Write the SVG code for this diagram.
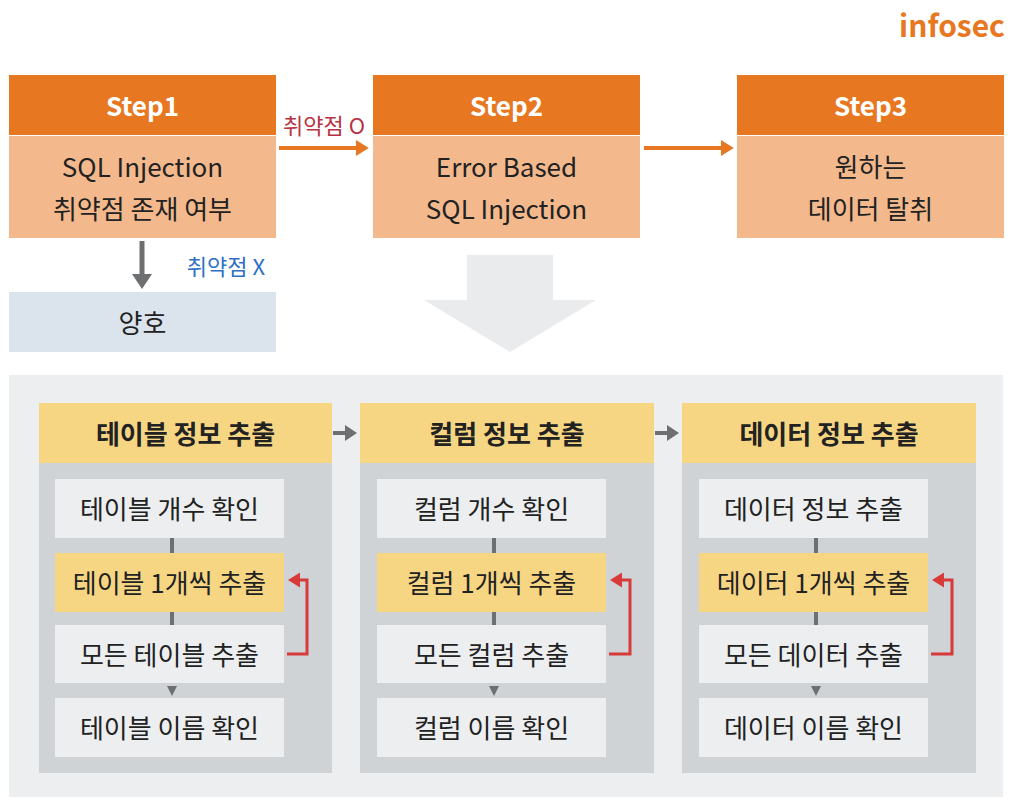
<svg xmlns="http://www.w3.org/2000/svg" width="1011" height="800" viewBox="0 0 1011 800">
<defs>
<style>
text{font-family:"Noto Sans CJK KR","Noto Sans",sans-serif;text-anchor:middle;dominant-baseline:central}
.hd{fill:#e87722}
.bd{fill:#f3b98c}
.st{fill:#fff;font-size:26px;font-weight:bold}
.bt{fill:#222;font-size:26px}
.ct{fill:#222;font-size:26px;font-weight:bold}
.ib{fill:#eceef0}
.iy{fill:#f7d683}
.col{fill:#cfd3d6}
.it{fill:#222;font-size:26px}
.vl{stroke:#6e6f71;stroke-width:4}
.red{stroke:#d83a3a;stroke-width:3;fill:none}
</style>
<marker id="ao" markerWidth="4" markerHeight="4" refX="0" refY="2" orient="auto" markerUnits="strokeWidth"><path d="M0,0L3.2,2L0,4z" fill="#e87722"/></marker>
<marker id="ag" markerWidth="4" markerHeight="4" refX="0" refY="2" orient="auto" markerUnits="strokeWidth"><path d="M0,0L3,2L0,4z" fill="#6e6f71"/></marker>
<marker id="ar" markerWidth="5" markerHeight="5" refX="0" refY="2.5" orient="auto" markerUnits="strokeWidth"><path d="M0,0L4,2.5L0,5z" fill="#d83a3a"/></marker>
</defs>
<rect width="1011" height="800" fill="#fff"/>
<text x="952" y="24" style="font-size:30px;font-weight:bold;fill:#e87722">infosec</text>

<g id="step1">
<rect class="hd" x="9" y="75" width="267" height="60"/>
<rect class="bd" x="9" y="136" width="267" height="102"/>
<text class="st" x="142.5" y="104">Step1</text>
<text class="bt" x="142.5" y="165">SQL Injection</text>
<text class="bt" x="142.5" y="207">취약점 존재 여부</text>
</g>
<g id="step2">
<rect class="hd" x="373" y="75" width="267" height="60"/>
<rect class="bd" x="373" y="136" width="267" height="102"/>
<text class="st" x="506.5" y="104">Step2</text>
<text class="bt" x="506.5" y="165">Error Based</text>
<text class="bt" x="506.5" y="207">SQL Injection</text>
</g>
<g id="step3">
<rect class="hd" x="737" y="75" width="267" height="60"/>
<rect class="bd" x="737" y="136" width="267" height="102"/>
<text class="st" x="870.5" y="104">Step3</text>
<text class="bt" x="870.5" y="165">원하는</text>
<text class="bt" x="870.5" y="207">데이터 탈취</text>
</g>
<g id="good">
<rect x="9" y="292" width="267" height="60" fill="#dbe3ec"/>
<text class="bt" x="142.5" y="321">양호</text>
</g>
<g id="bigarrow">
<polygon points="467,255 553,255 553,300 596,300 510,352 424,300 467,300" fill="#e9ebed"/>
</g>

<g id="panel">
<rect x="9" y="375" width="994" height="422" fill="#eceef0"/>
</g>

<g id="col1">
<rect class="col" x="39" y="463" width="293" height="310"/>
<rect class="iy" x="39" y="403" width="293" height="60"/>
<text class="ct" x="185.5" y="432">테이블 정보 추출</text>
<rect class="ib" x="55" y="479" width="229" height="59"/>
<text class="it" x="169.5" y="507">테이블 개수 확인</text>
<rect class="iy" x="55" y="553" width="229" height="59"/>
<text class="it" x="169.5" y="581">테이블 1개씩 추출</text>
<rect class="ib" x="55" y="625" width="229" height="58"/>
<text class="it" x="169.5" y="653">모든 테이블 추출</text>
<rect class="ib" x="55" y="698" width="229" height="59"/>
<text class="it" x="169.5" y="726">테이블 이름 확인</text>
</g>
<g id="col2">
<rect class="col" x="360" y="463" width="294" height="310"/>
<rect class="iy" x="360" y="403" width="294" height="60"/>
<text class="ct" x="507" y="432">컬럼 정보 추출</text>
<rect class="ib" x="377" y="479" width="229" height="59"/>
<text class="it" x="491.5" y="507">컬럼 개수 확인</text>
<rect class="iy" x="377" y="553" width="229" height="59"/>
<text class="it" x="491.5" y="581">컬럼 1개씩 추출</text>
<rect class="ib" x="377" y="625" width="229" height="58"/>
<text class="it" x="491.5" y="653">모든 컬럼 추출</text>
<rect class="ib" x="377" y="698" width="229" height="59"/>
<text class="it" x="491.5" y="726">컬럼 이름 확인</text>
</g>
<g id="col3">
<rect class="col" x="682" y="463" width="294" height="310"/>
<rect class="iy" x="682" y="403" width="294" height="60"/>
<text class="ct" x="829" y="432">데이터 정보 추출</text>
<rect class="ib" x="699" y="479" width="229" height="59"/>
<text class="it" x="813.5" y="507">데이터 정보 추출</text>
<rect class="iy" x="699" y="553" width="229" height="59"/>
<text class="it" x="813.5" y="581">데이터 1개씩 추출</text>
<rect class="ib" x="699" y="625" width="229" height="58"/>
<text class="it" x="813.5" y="653">모든 데이터 추출</text>
<rect class="ib" x="699" y="698" width="229" height="59"/>
<text class="it" x="813.5" y="726">데이터 이름 확인</text>
</g>

<g id="connectors">
<line x1="279" y1="148" x2="356" y2="148" stroke="#e87722" stroke-width="4" marker-end="url(#ao)"/>
<text x="324" y="124" style="font-size:22px;fill:#b8323f">취약점 O</text>
<line x1="644" y1="148" x2="721" y2="148" stroke="#e87722" stroke-width="4" marker-end="url(#ao)"/>
<line x1="142" y1="241" x2="142" y2="274" stroke="#6e6f71" stroke-width="5" marker-end="url(#ag)"/>
<text x="226" y="265" style="font-size:22px;fill:#2f6fc4">취약점 X</text>
<line class="vl" x1="333" y1="433" x2="345" y2="433" marker-end="url(#ag)"/>
<line class="vl" x1="655" y1="433" x2="667" y2="433" marker-end="url(#ag)"/>
<line class="vl" x1="172" y1="538" x2="172" y2="553"/>
<line class="vl" x1="172" y1="612" x2="172" y2="625"/>
<path d="M167,686h10l-5,10z" fill="#6e6f71"/>
<line class="vl" x1="494" y1="538" x2="494" y2="553"/>
<line class="vl" x1="494" y1="612" x2="494" y2="625"/>
<path d="M489,686h10l-5,10z" fill="#6e6f71"/>
<line class="vl" x1="816" y1="538" x2="816" y2="553"/>
<line class="vl" x1="816" y1="612" x2="816" y2="625"/>
<path d="M811,686h10l-5,10z" fill="#6e6f71"/>
<path class="red" d="M287,654H307V580H300" marker-end="url(#ar)"/>
<path class="red" d="M609,654H630V580H622" marker-end="url(#ar)"/>
<path class="red" d="M931,654H952V580H944" marker-end="url(#ar)"/>
</g>
</svg>
